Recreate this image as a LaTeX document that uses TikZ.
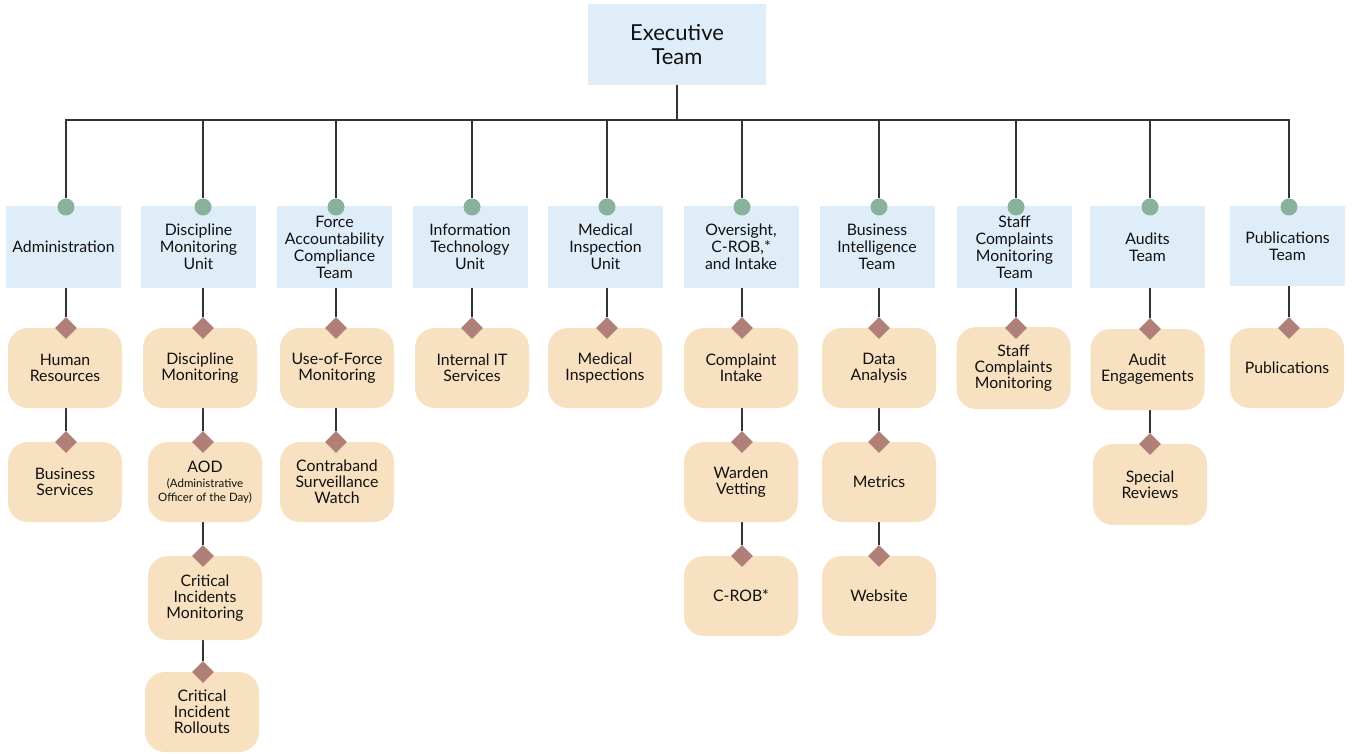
\documentclass[tikz,border=0pt]{standalone}
\usepackage{fontspec}
\setmainfont{Lato}
\usetikzlibrary{shapes.geometric,backgrounds}
\definecolor{hdrc}{HTML}{DFEDF8}
\definecolor{kidc}{HTML}{F8E1C0}
\definecolor{dotc}{HTML}{88B29C}
\definecolor{diac}{HTML}{B07F78}
\definecolor{linec}{HTML}{333333}
\definecolor{txt}{HTML}{111111}
\begin{document}
\begin{tikzpicture}[x=1pt,y=-1pt,
 hdrbox/.style={fill=hdrc, minimum width=115pt, minimum height=82pt, inner sep=0pt, align=center, font=\fontsize{15.8}{17}\selectfont, text=txt},
 kid/.style={fill=kidc, rounded corners=20pt, minimum width=114pt, minimum height=80pt, inner sep=0pt, align=center, font=\fontsize{15.8}{16.2}\selectfont, text=txt},
 dot/.style={circle, fill=dotc, minimum size=17pt, inner sep=0pt},
 dia/.style={diamond, fill=diac, minimum size=22pt, inner sep=0pt},
 conn/.style={draw=linec, line width=1.2pt}]
\useasboundingbox (0,0) rectangle (1354,753);
% executive
\node[hdrbox, minimum width=178pt, minimum height=81pt, font=\fontsize{22}{24}\selectfont] (exec) at (677,44.5) {Executive\\Team};
\coordinate (bus) at (0,120);
% headers
\node[hdrbox] (h1) at (63.5,247) {Administration};
\node[hdrbox] (h2) at (198.5,247) {Discipline\\Monitoring\\Unit};
\node[hdrbox] (h3) at (334.5,247) {Force\\Accountability\\Compliance\\Team};
\node[hdrbox] (h4) at (470,247) {Information\\Technology\\Unit};
\node[hdrbox] (h5) at (605.5,247) {Medical\\Inspection\\Unit};
\node[hdrbox] (h6) at (741,247) {Oversight,\\C-ROB,*\\and Intake};
\node[hdrbox] (h7) at (877,247) {Business\\Intelligence\\Team};
\node[hdrbox] (h8) at (1014.5,247) {Staff\\Complaints\\Monitoring\\Team};
\node[hdrbox] (h9) at (1147.5,247) {Audits\\Team};
\node[hdrbox, minimum height=80pt] (h10) at (1287.5,246) {Publications\\Team};
% dots
\node[dot] (d1) at (66,207) {};
\node[dot] (d2) at (203,207) {};
\node[dot] (d3) at (336,207) {};
\node[dot] (d4) at (472,207) {};
\node[dot] (d5) at (607,207) {};
\node[dot] (d6) at (742,207) {};
\node[dot] (d7) at (879,207) {};
\node[dot] (d8) at (1016,207) {};
\node[dot] (d9) at (1150,207) {};
\node[dot] (d10) at (1289,207) {};
% children
\node[kid] (k1a) at (65,368) {Human\\Resources};
\node[kid] (k1b) at (65,482) {Business\\Services};
\node[kid] (k2a) at (200,368) {Discipline\\Monitoring};
\node[kid] (k2b) at (205,482) {AOD\\[-1pt]{\fontsize{11.5}{13}\selectfont (Administrative}\\[-2pt]{\fontsize{11.5}{13}\selectfont Officer of the Day)}};
\node[kid, minimum height=84pt] (k2c) at (205,598) {Critical\\Incidents\\Monitoring};
\node[kid] (k2d) at (202,712) {Critical\\Incident\\Rollouts};
\node[kid] (k3a) at (337,368) {Use-of-Force\\Monitoring};
\node[kid] (k3b) at (337,482) {Contraband\\Surveillance\\Watch};
\node[kid] (k4a) at (472,368) {Internal IT\\Services};
\node[kid] (k5a) at (605,368) {Medical\\Inspections};
\node[kid] (k6a) at (741,368) {Complaint\\Intake};
\node[kid] (k6b) at (741,482) {Warden\\Vetting};
\node[kid] (k6c) at (741,596) {C-ROB*};
\node[kid] (k7a) at (879,368) {Data\\Analysis};
\node[kid] (k7b) at (879,482) {Metrics};
\node[kid] (k7c) at (879,596) {Website};
\node[kid, minimum height=82pt] (k8a) at (1013.5,368) {Staff\\Complaints\\Monitoring};
\node[kid, minimum height=81pt] (k9a) at (1147.5,369.5) {Audit\\Engagements};
\node[kid, minimum height=81pt] (k9b) at (1150,484.5) {Special\\Reviews};
\node[kid] (k10a) at (1287,368) {Publications};
% diamonds
\node[dia] (m1a) at (66,328) {};
\node[dia] (m1b) at (66,442) {};
\node[dia] (m2a) at (203,328) {};
\node[dia] (m2b) at (203,442) {};
\node[dia] (m2c) at (203,556) {};
\node[dia] (m2d) at (203,672) {};
\node[dia] (m3a) at (336,328) {};
\node[dia] (m3b) at (336,442) {};
\node[dia] (m4a) at (472,328) {};
\node[dia] (m5a) at (607,328) {};
\node[dia] (m6a) at (742,328) {};
\node[dia] (m6b) at (742,442) {};
\node[dia] (m6c) at (742,556) {};
\node[dia] (m7a) at (879,328) {};
\node[dia] (m7b) at (879,442) {};
\node[dia] (m7c) at (879,556) {};
\node[dia] (m8a) at (1016,328) {};
\node[dia] (m9a) at (1150,329) {};
\node[dia] (m9b) at (1150,444) {};
\node[dia] (m10a) at (1289,328) {};
% connectors
\begin{scope}[on background layer]
\foreach \k in {1,...,10}
  \draw[conn] (exec.south) -- (exec.south |- bus) -| (d\k);
\foreach \a/\b in {d1/m1a,m1a/m1b,d2/m2a,m2a/m2b,m2b/m2c,m2c/m2d,d3/m3a,m3a/m3b,d4/m4a,d5/m5a,d6/m6a,m6a/m6b,m6b/m6c,d7/m7a,m7a/m7b,m7b/m7c,d8/m8a,d9/m9a,m9a/m9b,d10/m10a}
  \draw[conn] (\a) -- (\b);
\end{scope}
\end{tikzpicture}
\end{document}
